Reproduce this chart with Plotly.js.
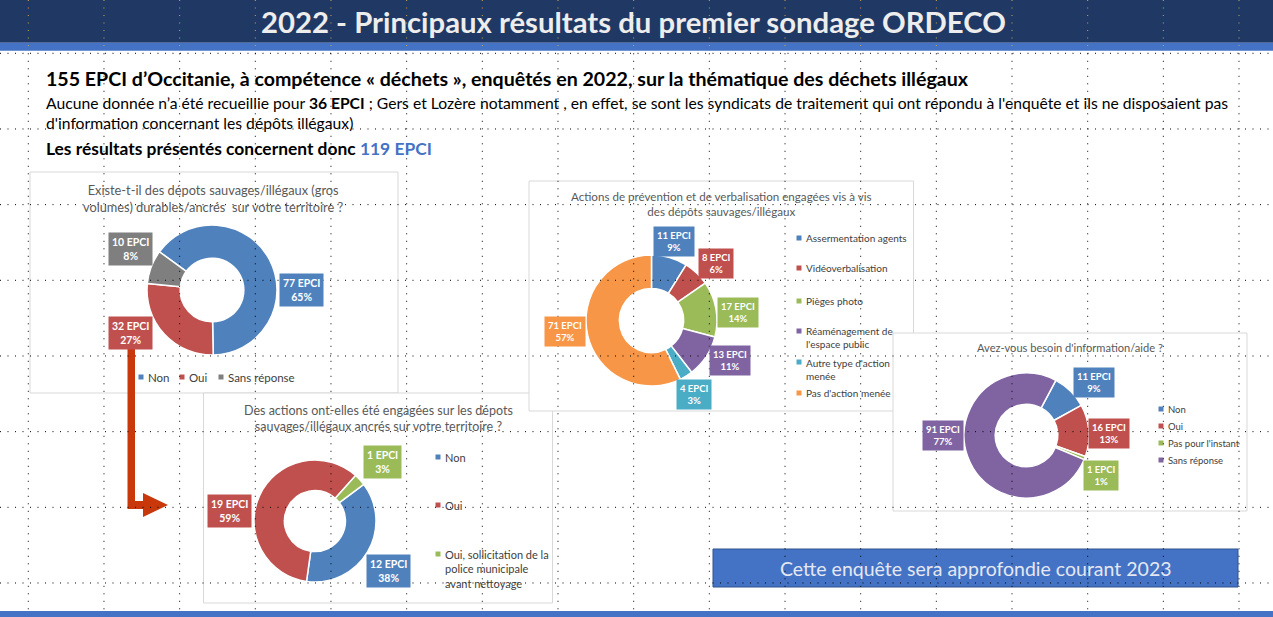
<!DOCTYPE html>
<html><head><meta charset="utf-8">
<script src="https://cdn.plot.ly/plotly-3.0.1.min.js"></script>
<style>html,body{margin:0;padding:0;background:#fff;overflow:hidden}#chart{width:1273px;height:617px}</style>
</head><body><div id="chart"></div>
<script>
// ---------------- DATA ----------------
const pageTitle = '2022 - Principaux résultats du premier sondage ORDECO';
const q1Title = 'Existe-t-il des dépots sauvages/illégaux (gros<br>volumes) durables/ancrés  sur votre territoire ?';
const q1Categories = ['Non', 'Oui', 'Sans réponse'];
const q1Values = [77, 32, 10];
const q1Percents = [65, 27, 8];

const q2Title = 'Des actions ont-elles été engagées sur les dépots<br>sauvages/illégaux ancrés sur votre territoire ?';
const q2Categories = ['Non', 'Oui', 'Oui, sollicitation de la<br>police municipale<br>avant nettoyage'];
const q2Values = [12, 19, 1];
const q2Percents = [38, 59, 3];

const q3Title = 'Actions de prévention et de verbalisation engagées vis à vis<br>des dépôts sauvages/illégaux';
const q3Categories = ['Assermentation agents', 'Vidéoverbalisation', 'Pièges photo', "Réaménagement de<br>l'espace public", "Autre type d'action<br>menée", "Pas d'action menée"];
const q3Values = [11, 8, 17, 13, 4, 71];
const q3Percents = [9, 6, 14, 11, 3, 57];

const q4Title = "Avez-vous besoin d'information/aide ?";
const q4Categories = ['Non', 'Oui', "Pas pour l'instant", 'Sans réponse'];
const q4Values = [11, 16, 1, 91];
const q4Percents = [9, 13, 1, 77];

const unitLabel = 'EPCI';

// ---------------- LAYOUT / STYLE ----------------
const W = 1273, H = 617;
const FONT = 'Lato, "Open Sans", sans-serif';
const BLUE = '#4F81BD', RED = '#C0504D', GRAY = '#7F7F7F', GREEN = '#9BBB59',
      PURPLE = '#8064A2', TEAL = '#4BACC6', ORANGE = '#F79646';

const shapes = [];
const annotations = [];
const traces = [{type: 'scatter', x: [], y: [], showlegend: false, hoverinfo: 'skip'}];

function rect(x0, y0, x1, y1, fill, line, lw, layer) {
  shapes.push({type: 'rect', xref: 'x', yref: 'y', x0, y0, x1, y1, fillcolor: fill,
    line: {color: line || fill, width: lw === undefined ? 0 : lw}, layer: layer || 'below'});
}
function text(x, y, t, size, color, opts) {
  annotations.push(Object.assign({xref: 'x', yref: 'y', x, y, text: t, showarrow: false,
    font: {family: FONT, size, color}, xanchor: 'left', yanchor: 'middle', align: 'left'}, opts || {}));
}
function donut(values, labels, colors, cx, cy, r, hole, rotation) {
  traces.push({type: 'pie', values, labels, sort: false, direction: 'clockwise', rotation, hole,
    marker: {colors, line: {color: '#ffffff', width: 1.5}}, textinfo: 'none', hoverinfo: 'none',
    showlegend: false,
    domain: {x: [(cx - r) / W, (cx + r) / W], y: [1 - (cy + r) / H, 1 - (cy - r) / H]}});
}
function dataLabels(values, pcts, colors, centers, size) {
  values.forEach((v, i) => {
    annotations.push({xref: 'x', yref: 'y', x: centers[i][0], y: centers[i][1],
      text: '<b>' + v + ' ' + unitLabel + '<br>' + pcts[i] + '%</b>', showarrow: false,
      font: {family: FONT, size, color: '#ffffff'}, bgcolor: colors[i], borderpad: 3,
      align: 'center', xanchor: 'center', yanchor: 'middle'});
  });
}
function legend(cats, colors, items, size, sq) {
  cats.forEach((c, i) => {
    const [x, y, ty] = items[i];
    rect(x - sq / 2, y - sq / 2, x + sq / 2, y + sq / 2, colors[i], colors[i], 0, 'below');
    text(x + 5, ty === undefined ? y : ty, c, size, '#404040');
  });
}

// header
rect(0, 0, W, 42.7, '#203864');
rect(0, 42.7, W, 50.7, '#4472C4');
rect(0, 611, W, H, '#4472C4');
text(633.5, 21, '<b>' + pageTitle + '</b>', 29.3, '#EDEDED', {xanchor: 'center'});

// intro text
text(44, 78, '<b>155 EPCI d’Occitanie, à compétence « déchets », enquêtés en 2022, sur la thématique des déchets illégaux</b>', 19.6, '#000000');
text(44, 103, 'Aucune donnée n’a été recueillie pour <b>36 EPCI</b> ; Gers et Lozère notamment , en effet, se sont les syndicats de traitement qui ont répondu à l\'enquête et ils ne disposaient pas', 15.7, '#000000');
text(44, 122.5, 'd\'information concernant les dépôts illégaux)', 15.7, '#000000');
text(44, 148, '<b>Les résultats présentés concernent donc <span style="color:#4472C4">119 EPCI</span></b>', 17.4, '#000000');

// chart boxes
const BOX = '#D9D9D9';
rect(30, 172, 398, 393, '#ffffff', BOX, 1);
rect(203.5, 393, 552.5, 603, '#ffffff', BOX, 1);
rect(529, 181, 913.5, 411, '#ffffff', BOX, 1);
rect(893, 333, 1247, 511, '#ffffff', BOX, 1);

// ---- chart 1
const c1 = [BLUE, RED, GRAY];
text(213, 198, q1Title, 12.8, '#595959', {xanchor: 'center', align: 'center'});
donut(q1Values, q1Categories, c1, 212, 290, 65, 0.49, -54);
dataLabels(q1Values, q1Percents, c1, [[301, 290], [130.5, 332.5], [130, 249]], 10.5);
legend(q1Categories, c1, [[141, 377], [182, 377], [221, 377]], 11.5, 5);

// red arrow
shapes.push({type: 'path', xref: 'x', yref: 'y', layer: 'below',
  path: 'M127.5,348 L135,348 L135,501 L143,501 L143,493 L168,505 L143,517 L143,509 L127.5,509 Z',
  fillcolor: '#C9380B', line: {width: 0}});

// ---- chart 2
const c2 = [BLUE, RED, GREEN];
text(378, 418, q2Title, 12.5, '#595959', {xanchor: 'center', align: 'center'});
donut(q2Values, q2Categories, c2, 315, 521, 61, 0.5, 53);
dataLabels(q2Values, q2Percents, c2, [[388.5, 571], [229.5, 510.5], [382.5, 462]], 10.5);
legend(q2Categories, c2, [[438, 457], [438, 505], [438, 554, 568.5]], 11, 5);

// ---- chart 3
const c3 = [BLUE, RED, GREEN, PURPLE, TEAL, ORANGE];
text(721, 204, q3Title, 11.6, '#595959', {xanchor: 'center', align: 'center'});
donut(q3Values, q3Categories, c3, 651.5, 320.5, 65.5, 0.49, 0);
dataLabels(q3Values, q3Percents, c3, [[673.5, 241], [715.5, 263], [737.5, 312], [730, 360], [694, 394], [564.5, 331]], 9.5);
legend(q3Categories, c3, [[799, 238], [799, 268], [799, 301], [799, 331, 337.5], [799, 362, 369], [799, 393]], 10, 5);

// ---- chart 4
const c4 = [BLUE, RED, GREEN, PURPLE];
text(1070, 347, q4Title, 11.1, '#595959', {xanchor: 'center', align: 'center'});
donut(q4Values, q4Categories, c4, 1026.5, 435.5, 62.5, 0.5, 28);
dataLabels(q4Values, q4Percents, c4, [[1093.5, 382.5], [1109, 433.5], [1100.5, 475], [943, 435]], 9.5);
legend(q4Categories, c4, [[1161, 409], [1161, 426], [1161, 443], [1161, 460]], 9.5, 5);

// bottom box
rect(713, 549, 1238, 587, '#4472C4', '#2F528F', 1);
text(975.5, 568, 'Cette enquête sera approfondie courant 2023', 19.5, '#E4E8F2', {xanchor: 'center'});

// dotted slide grid
for (let k = 0; k < 17; k++) {
  const x = 28.3 + 75.67 * k;
  shapes.push({type: 'line', xref: 'x', yref: 'y', x0: x, x1: x, y0: 0, y1: 50, layer: 'above',
    line: {color: '#C9A84C', width: 1, dash: '1px,6.5px'}});
  shapes.push({type: 'line', xref: 'x', yref: 'y', x0: x, x1: x, y0: 53.3, y1: 611, layer: 'above',
    line: {color: '#000000', width: 1, dash: '1px,6.5px'}});
}
for (let k = 0; k < 8; k++) {
  const y = 53.3 + 75.67 * k;
  shapes.push({type: 'line', xref: 'x', yref: 'y', x0: 0, x1: W, y0: y, y1: y, layer: 'above',
    line: {color: '#000000', width: 1, dash: '1px,6.5px'}});
}

const layout = {
  width: W, height: H, margin: {l: 0, r: 0, t: 0, b: 0, pad: 0},
  paper_bgcolor: '#ffffff', plot_bgcolor: 'rgba(0,0,0,0)', showlegend: false,
  xaxis: {range: [0, W], visible: false, fixedrange: true},
  yaxis: {range: [H, 0], visible: false, fixedrange: true},
  shapes, annotations, font: {family: FONT}
};
Plotly.newPlot('chart', traces, layout, {staticPlot: true, displayModeBar: false});
</script>
</body></html>
